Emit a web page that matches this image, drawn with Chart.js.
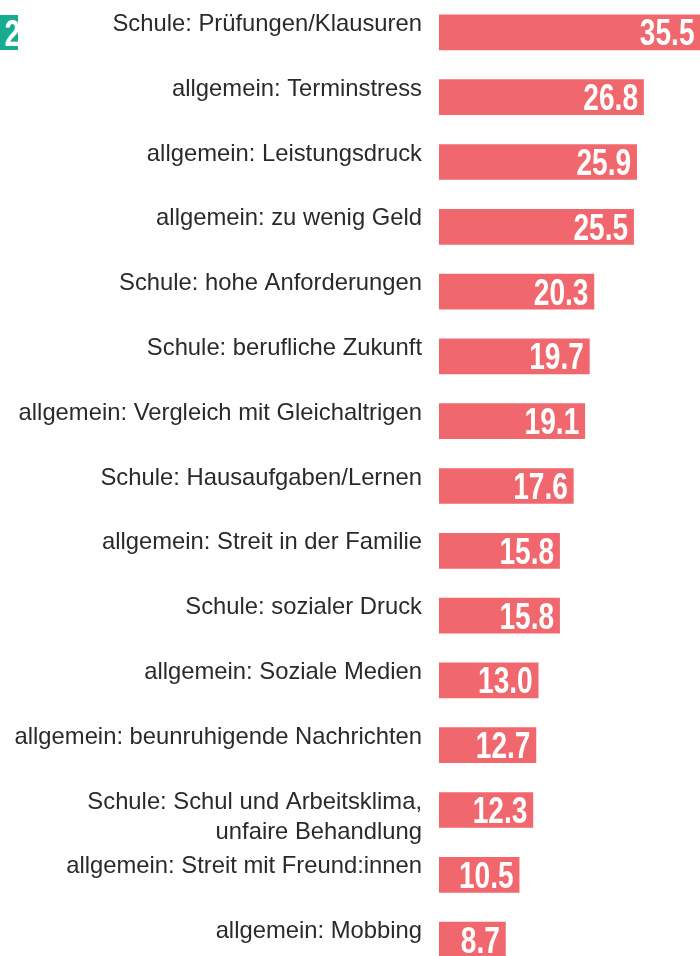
<!DOCTYPE html>
<html>
<head>
<meta charset="utf-8">
<script src="https://cdn.jsdelivr.net/npm/chart.js@4"></script>
<style>
  html, body { margin: 0; padding: 0; background: #fff; overflow: hidden; }
  .wrap { position: relative; width: 700px; height: 972px; }
  .badge {
    position: absolute; left: 0; top: 15px; width: 18px; height: 35px;
    background: #17ab8f; color: #fff; overflow: hidden;
    font: bold 36px 'Liberation Sans', Arial, sans-serif;
    line-height: 37px; text-align: right;
  }
  .badge span { display: inline-block; transform: scaleX(0.78); transform-origin: right; margin-right: 2px; }
</style>
</head>
<body>
<div class="wrap">
  <canvas id="stressChart" width="700" height="972"></canvas>
  <div class="badge"><span>2</span></div>
</div>
<script>
'use strict';

const categories = [
    'Schule: Prüfungen/Klausuren',
    'allgemein: Terminstress',
    'allgemein: Leistungsdruck',
    'allgemein: zu wenig Geld',
    'Schule: hohe Anforderungen',
    'Schule: berufliche Zukunft',
    'allgemein: Vergleich mit Gleichaltrigen',
    'Schule: Hausaufgaben/Lernen',
    'allgemein: Streit in der Familie',
    'Schule: sozialer Druck',
    'allgemein: Soziale Medien',
    'allgemein: beunruhigende Nachrichten',
    ['', 'Schule: Schul und Arbeitsklima,', 'unfaire Behandlung'],
    'allgemein: Streit mit Freund:innen',
    'allgemein: Mobbing'
];
const values = [35.5, 26.8, 25.9, 25.5, 20.3, 19.7, 19.1, 17.6, 15.8, 15.8, 13.0, 12.7, 12.3, 10.5, 8.7];

const barColor = '#f1676e';

// white value labels at the right end of each bar
const valueLabels = {
    id: 'valueLabels',
    afterDatasetsDraw(chart) {
        const ctx = chart.ctx;
        const area = chart.chartArea;
        const meta = chart.getDatasetMeta(0);
        ctx.save();
        ctx.fillStyle = '#fff';
        ctx.font = "bold 36px 'Liberation Sans', Arial, sans-serif";
        ctx.textAlign = 'right';
        ctx.textBaseline = 'alphabetic';
        meta.data.forEach((bar, i) => {
            const x = Math.min(bar.x, area.right) - 5.5;
            ctx.save();
            ctx.translate(x, bar.y + 13);
            ctx.scale(0.78, 1);
            ctx.fillText(values[i].toFixed(1), 0, 0);
            ctx.restore();
        });
        ctx.restore();
    }
};

new Chart(document.getElementById('stressChart'), {
    type: 'bar',
    data: {
        labels: categories,
        datasets: [{
            data: values,
            backgroundColor: barColor,
            borderWidth: 0,
            barThickness: 35
        }]
    },
    options: {
        indexAxis: 'y',
        responsive: false,
        animation: false,
        layout: { padding: 0 },
        plugins: {
            legend: { display: false },
            tooltip: { enabled: false }
        },
        scales: {
            x: {
                display: false,
                min: 0,
                max: 34.2
            },
            y: {
                border: { display: false },
                grid: { display: false, drawTicks: false },
                afterFit: (scale) => {
                    scale.width = 439;
                    scale.paddingTop = 0;
                    scale.paddingBottom = 0;
                },
                ticks: {
                    autoSkip: false,
                    padding: 17,
                    labelOffset: -8,
                    color: '#2a2a2a',
                    font: { family: "'Liberation Sans', Arial, sans-serif", size: 23.8, lineHeight: 1.26 }
                }
            }
        }
    },
    plugins: [valueLabels]
});
</script>
</body>
</html>
